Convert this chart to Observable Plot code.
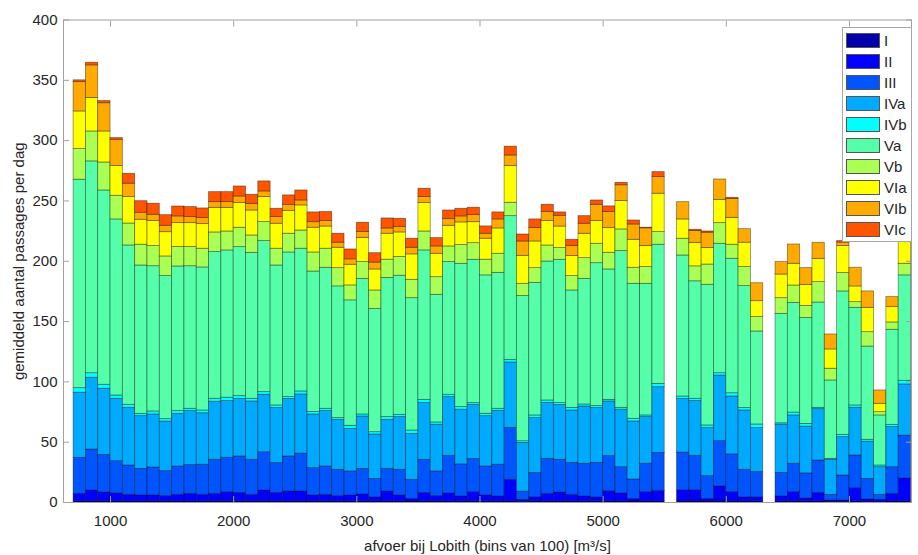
<!DOCTYPE html>
<html><head><meta charset="utf-8">
<script src="https://cdn.jsdelivr.net/npm/d3@7"></script>
<script src="https://cdn.jsdelivr.net/npm/@observablehq/plot@0.6"></script>
<style>
body{margin:0;background:#fff;}
#wrap{position:relative;width:918px;height:555px;font-family:"Liberation Sans",Arial,sans-serif;color:#262626;}
#legend{position:absolute;left:842px;top:27px;width:70px;height:215px;border:1px solid #a6a6a6;background:#fff;box-sizing:border-box;}
.sw{position:absolute;left:3px;width:34px;height:15px;box-sizing:border-box;border:1px solid #555;}
.lb{position:absolute;left:41px;font-size:15px;line-height:15px;}
</style></head>
<body><div id="wrap"><div id="legend"></div></div>
<script>
const bins = [700,800,900,1000,1100,1200,1300,1400,1500,1600,1700,1800,1900,2000,2100,2200,2300,2400,2500,2600,2700,2800,2900,3000,3100,3200,3300,3400,3500,3600,3700,3800,3900,4000,4100,4200,4300,4400,4500,4600,4700,4800,4900,5000,5100,5200,5300,5400,5600,5700,5800,5900,6000,6100,6200,6400,6500,6600,6700,6800,6900,7000,7100,7200,7300,7400];
const seriesNames = ["I","II","III","IVa","IVb","Va","Vb","VIa","VIb","VIc"];
const seriesColors = ["#0000AA","#0000FF","#0055FF","#00AAFF","#00FFFF","#55FFAA","#AAFF55","#FFFF00","#FFAA00","#FF5500"];
const xTicks = [1000,2000,3000,4000,5000,6000,7000];
const yTicks = [0,50,100,150,200,250,300,350,400];
const xLabel = "afvoer bij Lobith (bins van 100) [m³/s]";
const yLabel = "gemiddeld aantal passages per dag";

const sI   = [1,1,1,1,1,1,1,1,1,1,1,1,1,1,1,1,1,1,1,1,1,1,1,1,1,1,1,0.8,1,1,1,1,1,1,1,1,0.6,1,1,1,1,1,1,1,1,0.8,1,1,1.5,1.5,0.8,1.5,1.2,1,1,1,1,1,1,0.6,0.6,1,0.6,0.6,1,1];
const sII  = [6.2,9,7.3,6.7,5.4,4.8,4.8,4.3,5.4,6.2,5.4,6.2,7.6,7,5.4,9,7,8.1,8.1,4.8,5.4,4.3,4.8,5.6,3.4,8.1,4.8,2.2,7,4.3,6.7,4,7.6,4.8,4,17.8,1.6,3.4,6.2,7.3,5.4,4,3.4,8.4,6.7,2.2,7.6,8.7,8.7,8.7,2.2,11.8,7.4,3.4,3.4,4,7.6,2.5,7,1.1,1.1,10.9,1.9,1.6,6.2,19];
const sIII = [29.8,33.9,31.2,26.6,24.3,22.1,23.2,20.7,23.5,23.8,24.9,28.2,28.5,30.2,29,31.7,24.7,29.1,31.4,22.7,23.5,21.8,19.9,21.3,15.2,18.8,21.3,15.8,27.4,20.5,31,26.6,27.4,24.1,26.3,43.1,6.8,20,29,27.1,26.5,27.1,28.5,29.1,21.6,16.1,23.5,31.4,31.2,28.5,18.9,37.6,31.3,22.7,20.9,19.5,23.5,20.7,26.8,4.7,20.7,27.1,17.1,4.2,22.1,35.4];
const sIVa = [54,59.5,54.8,51.7,47.8,43.7,44,41.1,43.6,44.8,42.7,48.1,47,47.6,48.4,47.6,45.6,47.6,49.1,44.5,45.9,41.4,35.2,43.4,36.8,40.6,43.7,38.1,47,38.7,48.7,45.3,45,41.7,44.7,54.2,40.4,45.6,46.4,45.4,43.4,47.5,45.4,45.3,47.6,48.1,38.7,54.5,44.4,45.4,39.8,54.3,48,49.2,36.4,40.1,40.1,38.7,42.6,29,31.8,39.5,30.8,22.9,33.2,42.5];
const sIVb = [3.8,3.8,3.3,2.7,2.5,1.9,2.5,2,2.3,1.9,2.3,2.5,2.8,2.4,2.2,2.2,2.2,1.6,2.5,2,1.9,1.5,2.7,1.7,1.9,2.3,1.9,2.8,2.7,1.9,1.9,2.2,1.4,2,1.7,2.2,1.4,2.2,2,1.6,2.2,1.7,1.7,1.3,1.6,2.2,1.4,2.7,2.1,1.9,2.2,2,2.7,2,3,1.1,2.4,2.2,1.1,0.8,1.9,2,1.6,1.4,1.9,3];
const sVa  = [172.8,175.6,161.1,146,132.1,123,120.4,118.6,119.9,118.2,118.6,121.6,122.1,123.5,121,125.2,116,119.9,118.3,116.5,116.9,109.2,104,112.4,102.1,115.4,115.3,109.7,123.9,105.8,110,118.8,118.8,114.7,112.7,119.1,120.4,109.9,115.2,118.8,97.3,104.1,118.4,108.1,129.9,111.9,109.1,115.4,116.9,97.4,116.6,107.3,111.5,101.1,77.1,90.7,90.9,87.9,87.3,65,118.9,80.9,77.3,41.5,78.8,87.4];
const sVb  = [25.4,24.8,23.2,19.6,18.2,17.2,16.7,16.3,16.1,15.9,15.5,16.3,15.7,16.1,14.4,15.8,13.9,15.5,15.1,15.8,15.8,15.1,12.4,13.9,15.4,15.1,15.5,15.2,15.7,14.6,13,15.5,13.8,13,15.8,11.1,10.1,12.2,13.3,9.7,11.9,17.2,16.1,13.8,18,13.3,13.9,10.5,13.9,12.4,16.8,17.1,11.6,15.8,11.9,13,14.4,10,16.9,9.7,15.2,4.7,11.9,2.7,6.1,9.6];
const sVIa = [31.2,27.7,25.7,24.6,21.9,20.7,20.7,20.1,19.8,19.8,20.4,20.4,19.6,20.4,20.7,20.7,20.7,18.8,20.8,20.5,18.4,16.9,17.1,20.1,17.4,21.5,20.4,21.1,23.5,19.4,17.1,18.8,17.4,17.4,21,30.4,23.2,22.1,20.2,17.9,16.6,20.2,18.8,20.5,23.5,23.2,17.4,31.8,16,19.3,13.6,19.3,22.3,20.2,13.2,19.6,18,17.4,19.3,16,22.4,13,20.2,6.9,12.7,30];
const sVIb = [24.3,27.1,23.4,21.8,11.1,5.8,5.2,5.3,5.6,5,5,4.7,4.7,5.5,5.5,4.7,5.5,5.2,4.1,4.6,4.5,4.2,4.5,4.8,5.7,4.4,4.4,5.5,5,6.1,5.5,5,5.9,4.1,7.5,8.8,11.9,11.1,7.5,8.9,8.3,8.3,13.5,13.3,13.1,12.7,14.7,13.8,14.3,10,12.8,16.9,15.6,11.2,14.9,10.3,16,13.9,13.3,12.4,2.9,15.5,13.6,11.1,8.3,8];
const sVIc = [1.5,2.2,1.8,1.4,8.2,9.6,9.2,8.8,8.2,8.3,8,8.3,8.3,8.3,7.5,8.3,6.9,7.8,8.3,8.1,7.5,7.4,8.2,7.7,7.8,8.3,6.9,7.5,6.9,6.9,7.2,6.3,6.1,6.1,5.8,7.3,5.8,7.2,6,2.8,5.2,6.3,3.6,4.7,2,3.3,0.5,4.1,0,1,1,0,1,0,0,0,0,0,0,0,1.2,0,0,0,0,2];

const seriesValues = [sI,sII,sIII,sIVa,sIVb,sVa,sVb,sVIa,sVIb,sVIc];
const rows = [];
bins.forEach((b, i) => seriesNames.forEach((s, j) => rows.push({bin: b, series: s, value: seriesValues[j][i]})));

const axisGray = "#a0a0a0";
const chart = Plot.plot({
  width: 918, height: 555,
  marginLeft: 63, marginRight: 7, marginTop: 19.5, marginBottom: 53,
  style: {fontFamily: "Liberation Sans, Arial, sans-serif", fontSize: "15px", color: "#262626", background: "#fff", overflow: "visible"},
  x: {type: "linear", domain: [618, 7504]},
  y: {domain: [0, 400]},
  color: {domain: seriesNames, range: seriesColors},
  marks: [
    Plot.rectY(rows, Plot.stackY({x: "bin", y: "value", fill: "series", interval: 100, inset: 0, stroke: "#000", strokeOpacity: 0.45, strokeWidth: 0.8, order: null})),
    Plot.frame({stroke: axisGray}),
    Plot.axisX({ticks: xTicks, tickSize: 0, tickPadding: 13, tickFormat: d => String(d), label: xLabel, labelAnchor: "center", labelArrow: "none", labelOffset: 48, fontSize: 15}),
    Plot.axisX({anchor: "bottom", ticks: xTicks, tickSize: -6, fill: "none", stroke: axisGray, label: null}),
    Plot.axisX({anchor: "top", ticks: xTicks, tickSize: -6, fill: "none", stroke: axisGray, label: null}),
    Plot.axisY({ticks: yTicks, tickSize: 0, tickPadding: 6, label: yLabel, labelAnchor: "center", labelArrow: "none", labelOffset: 50, fontSize: 15}),
    Plot.axisY({anchor: "left", ticks: yTicks, tickSize: -6, fill: "none", stroke: axisGray, label: null}),
    Plot.axisY({anchor: "right", ticks: yTicks, tickSize: -6, fill: "none", stroke: axisGray, label: null})
  ]
});
const wrap = document.getElementById("wrap");
wrap.insertBefore(chart, wrap.firstChild);

const legend = d3.select("#legend");
seriesNames.forEach((s, i) => {
  const top = 4.5 + i * 21;
  legend.append("div").attr("class", "sw").style("top", top + "px").style("background", seriesColors[i]);
  legend.append("div").attr("class", "lb").style("top", (top + 0.5) + "px").text(s);
});
</script>
</body></html>
